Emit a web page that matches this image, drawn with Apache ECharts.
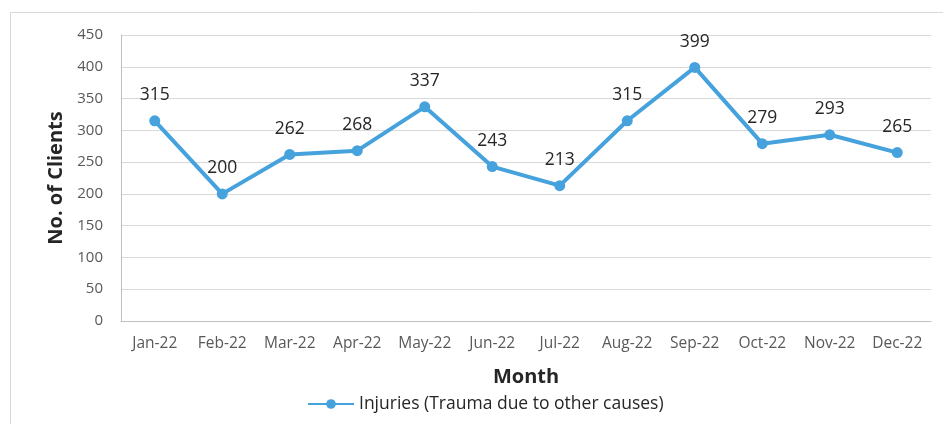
<!DOCTYPE html>
<html>
<head>
<meta charset="utf-8">
<script src="https://cdn.jsdelivr.net/npm/echarts@6/dist/echarts.min.js"></script>
<style>
  html, body { margin: 0; padding: 0; background: #fff; }
  #chart { width: 943px; height: 424px; }
</style>
</head>
<body>
<div id="chart"></div>
<script>
const months = ['Jan-22', 'Feb-22', 'Mar-22', 'Apr-22', 'May-22', 'Jun-22',
                'Jul-22', 'Aug-22', 'Sep-22', 'Oct-22', 'Nov-22', 'Dec-22'];
const injuries = [315, 200, 262, 268, 337, 243, 213, 315, 399, 279, 293, 265];
const seriesName = 'Injuries (Trauma due to other causes)';

const font = '"Open Sans", "Noto Sans", sans-serif';
const lineColor = '#45A2DC';

const chart = echarts.init(document.getElementById('chart'));

chart.setOption({
  animation: false,
  textStyle: { fontFamily: font },
  graphic: [
    {
      type: 'rect',
      shape: { x: 10.5, y: 12.5, width: 1000, height: 500 },
      style: { fill: 'none', stroke: '#d9d9d9', lineWidth: 1 },
      silent: true,
    },
  ],
  grid: {
    left: 121,
    right: 12,
    top: 35,
    bottom: 103,
  },
  legend: {
    data: [seriesName],
    left: 302,
    top: 390,
    itemWidth: 46,
    itemHeight: 12,
    itemGap: 8,
    textStyle: { fontFamily: font, fontSize: 17.5, color: '#262626' },
  },
  xAxis: {
    type: 'category',
    data: months,
    boundaryGap: true,
    name: 'Month',
    nameLocation: 'middle',
    nameGap: 46,
    nameTextStyle: { fontFamily: font, fontSize: 20, fontWeight: 'bold', color: '#262626' },
    axisLine: { lineStyle: { color: '#bfbfbf' } },
    axisTick: { show: false },
    axisLabel: { fontFamily: font, fontSize: 15.5, color: '#595959', margin: 15, interval: 0 },
  },
  yAxis: {
    type: 'value',
    min: 0,
    max: 450,
    interval: 50,
    name: 'No. of Clients',
    nameLocation: 'middle',
    nameGap: 52,
    nameTextStyle: { fontFamily: font, fontSize: 20, fontWeight: 'bold', color: '#262626' },
    axisLine: { show: true, lineStyle: { color: '#bfbfbf' } },
    axisTick: { show: false },
    axisLabel: { fontFamily: font, fontSize: 15, color: '#595959', margin: 18 },
    splitLine: { lineStyle: { color: '#d9d9d9' } },
  },
  series: [
    {
      name: seriesName,
      type: 'line',
      data: injuries,
      symbol: 'circle',
      symbolSize: 11,
      itemStyle: { color: lineColor },
      lineStyle: { color: lineColor, width: 4 },
      label: {
        show: true,
        position: 'top',
        distance: 11,
        fontFamily: font,
        fontSize: 17.5,
        color: '#262626',
      },
    },
  ],
});
</script>
</body>
</html>
